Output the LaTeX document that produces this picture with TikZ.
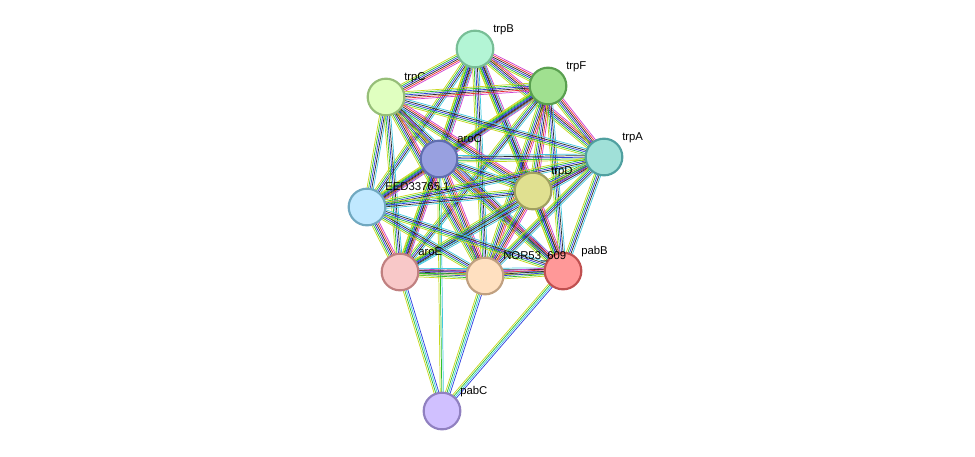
\documentclass[tikz,border=0pt]{standalone}
\usepackage{fontspec}
\setmainfont{Liberation Sans}
\usetikzlibrary{calc}
\pgfdeclarelayer{bg}\pgfsetlayers{bg,main}
\definecolor{ycol}{HTML}{C8D820}
\definecolor{gcol}{HTML}{30C030}
\definecolor{bcol}{HTML}{3040E0}
\definecolor{ccol}{HTML}{40C8E0}
\definecolor{rcol}{HTML}{E83030}
\definecolor{kcol}{HTML}{303030}
\definecolor{mcol}{HTML}{D040D0}
\definecolor{fB}{RGB}{179,245,213}\definecolor{dB}{RGB}{120,190,150}
\definecolor{fF}{RGB}{160,224,144}\definecolor{dF}{RGB}{90,160,80}
\definecolor{fC}{RGB}{224,255,192}\definecolor{dC}{RGB}{150,190,120}
\definecolor{faC}{RGB}{152,160,224}\definecolor{daC}{RGB}{96,110,176}
\definecolor{fA}{RGB}{160,224,216}\definecolor{dA}{RGB}{80,160,160}
\definecolor{fD}{RGB}{224,224,144}\definecolor{dD}{RGB}{160,160,96}
\definecolor{fE}{RGB}{192,232,255}\definecolor{dE}{RGB}{112,168,192}
\definecolor{faE}{RGB}{248,200,200}\definecolor{daE}{RGB}{192,128,128}
\definecolor{fN}{RGB}{255,224,192}\definecolor{dN}{RGB}{192,160,128}
\definecolor{fpB}{RGB}{255,152,152}\definecolor{dpB}{RGB}{192,80,80}
\definecolor{fpC}{RGB}{208,192,255}\definecolor{dpC}{RGB}{144,128,192}
\def\Lf{-3/ycol,-1.8/gcol,-0.6/bcol,0.6/kcol,1.8/rcol,3/mcol}
\def\Lm{-2.4/ycol,-1.2/gcol,0/bcol,1.2/kcol,2.4/ccol}
\def\Ll{-1.8/ycol,-0.6/gcol,0.6/ccol,1.8/bcol}
\def\Ls{-1.2/ycol,0/gcol,1.2/ccol}
\newcommand\edg[3]{\foreach \eoff/\ecol in #3 {\draw[\ecol,line width=0.55pt] ($(#1)!\eoff pt!90:(#2)$) -- ($(#2)!\eoff pt!-90:(#1)$);}}
\tikzset{
 prot/.style={circle,minimum size=27.5pt,line width=1.6pt,inner sep=0pt},
 lab/.style={font=\fontsize{8.5}{10}\selectfont,anchor=base west,inner sep=0pt}
}
\begin{document}
\begin{tikzpicture}[x={(0.75pt,0pt)},y={(0pt,-0.75pt)}]
\useasboundingbox (0,0) rectangle (975,457);
\node[prot,fill=fB,draw=dB] (trpB) at (475,49) {};
\node[prot,fill=fF,draw=dF] (trpF) at (548,86) {};
\node[prot,fill=fC,draw=dC] (trpC) at (386,97) {};
\node[prot,fill=faC,draw=daC] (aroC) at (439,159) {};
\node[prot,fill=fA,draw=dA] (trpA) at (604,157) {};
\node[prot,fill=fD,draw=dD] (trpD) at (533,191) {};
\node[prot,fill=fE,draw=dE] (EED) at (367,207) {};
\node[prot,fill=faE,draw=daE] (aroE) at (400,272) {};
\node[prot,fill=fN,draw=dN] (NOR) at (485,276) {};
\node[prot,fill=fpB,draw=dpB] (pabB) at (563,271) {};
\node[prot,fill=fpC,draw=dpC] (pabC) at (442,411) {};
\node[lab] at (493,32) {trpB};
\node[lab] at (566,69) {trpF};
\node[lab] at (404,80) {trpC};
\node[lab] at (457,142) {aroC};
\node[lab] at (622,140) {trpA};
\node[lab] at (551,174) {trpD};
\node[lab] at (385,190) {EED33765.1};
\node[lab] at (418,255) {aroE};
\node[lab] at (503,259) {NOR53\_609};
\node[lab] at (581,254) {pabB};
\node[lab] at (460,394) {pabC};
\begin{pgfonlayer}{bg}
\edg{trpB}{trpF}{\Lf}\edg{trpB}{trpC}{\Lf}\edg{trpB}{aroC}{\Lf}\edg{trpB}{trpA}{\Lf}
\edg{trpB}{trpD}{\Lf}\edg{trpB}{EED}{\Lm}\edg{trpB}{aroE}{\Lm}\edg{trpB}{NOR}{\Lm}\edg{trpB}{pabB}{\Lm}
\edg{trpF}{trpC}{\Lf}\edg{trpF}{aroC}{\Lf}\edg{trpF}{trpA}{\Lf}\edg{trpF}{trpD}{\Lf}
\edg{trpF}{EED}{\Lm}\edg{trpF}{aroE}{\Lm}\edg{trpF}{NOR}{\Lf}\edg{trpF}{pabB}{\Lm}
\edg{trpC}{aroC}{\Lf}\edg{trpC}{trpA}{\Lm}\edg{trpC}{trpD}{\Lf}\edg{trpC}{EED}{\Lm}
\edg{trpC}{aroE}{\Lm}\edg{trpC}{NOR}{\Lf}\edg{trpC}{pabB}{\Lm}
\edg{aroC}{trpA}{\Lm}\edg{aroC}{trpD}{\Lm}\edg{aroC}{EED}{\Lf}\edg{aroC}{aroE}{\Lf}
\edg{aroC}{NOR}{\Lf}\edg{aroC}{pabB}{\Lf}\edg{aroC}{pabC}{\Ls}
\edg{trpA}{trpD}{\Lf}\edg{trpA}{EED}{\Lm}\edg{trpA}{aroE}{\Lm}\edg{trpA}{NOR}{\Lm}\edg{trpA}{pabB}{\Lm}
\edg{trpD}{EED}{\Lm}\edg{trpD}{aroE}{\Lm}\edg{trpD}{NOR}{\Lf}\edg{trpD}{pabB}{\Lf}
\edg{EED}{aroE}{\Lf}\edg{EED}{NOR}{\Lm}\edg{EED}{pabB}{\Lm}
\edg{aroE}{NOR}{\Lf}\edg{aroE}{pabB}{\Lm}\edg{aroE}{pabC}{\Ll}
\edg{NOR}{pabB}{\Lf}\edg{NOR}{pabC}{\Ll}\edg{pabB}{pabC}{\Ll}
\end{pgfonlayer}
\end{tikzpicture}
\end{document}
